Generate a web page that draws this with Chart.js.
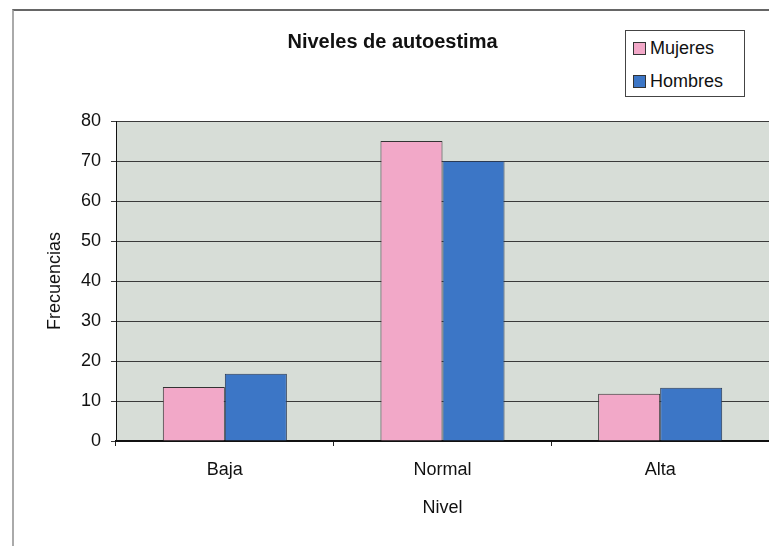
<!DOCTYPE html>
<html>
<head>
<meta charset="utf-8">
<script src="https://cdn.jsdelivr.net/npm/chart.js@4.4.1/dist/chart.umd.min.js"></script>
<style>
    body { margin: 0; background: #fff; }
    #wrap { position: relative; width: 769px; height: 546px; overflow: hidden; }
    #frame { position: absolute; left: 12px; top: 9px; width: 760px; height: 540px;
             border-left: 2px solid #aaa; border-top: 2px solid #666; pointer-events: none; }
    #legend { position: absolute; left: 625px; top: 30px; width: 120px; height: 67px;
              border: 1px solid #444; background: #fff; font-family: "Liberation Sans", Arial, sans-serif;
              font-size: 18px; color: #111; box-sizing: border-box; }
    .item { position: absolute; left: 7px; display: flex; align-items: center; line-height: 20px; }
    .sw { width: 11px; height: 11px; border: 1px solid #333; margin-right: 4px; }
</style>
</head>
<body>
<div id="wrap">
    <canvas id="chart" width="769" height="546"></canvas>
    <div id="frame"></div>
    <div id="legend"></div>
</div>
<script>
const niveles = ["Baja", "Normal", "Alta"];
const mujeres = [13.5, 75, 11.8];
const hombres = [16.8, 70, 13.3];
const ticksY = [0, 10, 20, 30, 40, 50, 60, 70, 80];

const colorMujeres = "#f2a8c8";
const colorHombres = "#3c76c6";
const fuente = "'Liberation Sans', Arial, sans-serif";

// fondo gris del area de trazado
const fondoPlot = {
    id: "fondoPlot",
    beforeDraw(chart) {
        const { ctx, chartArea: a } = chart;
        ctx.save();
        ctx.fillStyle = "#d7ddd7";
        ctx.fillRect(a.left, a.top, a.right - a.left, a.bottom - a.top);
        ctx.restore();
    }
};

new Chart(document.getElementById("chart"), {
    type: "bar",
    data: {
        labels: niveles,
        datasets: [
            { label: "Mujeres", data: mujeres, backgroundColor: colorMujeres, borderColor: "#333", borderWidth: 1 },
            { label: "Hombres", data: hombres, backgroundColor: colorHombres, borderColor: "#2a3a55", borderWidth: 1 }
        ]
    },
    options: {
        responsive: false,
        animation: false,
        layout: { padding: { left: 16, right: 0, top: 0, bottom: 0 } },
        datasets: { bar: { categoryPercentage: 0.57, barPercentage: 1 } },
        plugins: {
            legend: { display: false },
            tooltip: { enabled: false },
            title: {
                display: true,
                text: "Niveles de autoestima",
                color: "#111",
                font: { family: fuente, size: 20, weight: "bold" },
                padding: { top: 30, bottom: 67 }
            }
        },
        scales: {
            x: {
                grid: { drawOnChartArea: false, drawTicks: true, tickLength: 5, color: "#222" },
                border: { color: "#111", width: 2 },
                ticks: { color: "#111", font: { family: fuente, size: 18 }, padding: 13 },
                title: { display: true, text: "Nivel", color: "#111", font: { family: fuente, size: 18 }, padding: { top: 10, bottom: 27 } },
                afterFit(s) { s.height = 105; }
            },
            y: {
                min: 0,
                max: 80,
                afterBuildTicks(s) { s.ticks = ticksY.map(v => ({ value: v })); },
                grid: { color: "#3a3a3a", lineWidth: 1, tickLength: 5 },
                border: { color: "#111", width: 1 },
                ticks: { color: "#111", font: { family: fuente, size: 18 }, padding: 10 },
                title: { display: true, text: "Frecuencias", color: "#111", font: { family: fuente, size: 18 }, padding: { top: 28, bottom: 0 } },
                afterFit(s) { s.width = 100; }
            }
        }
    },
    plugins: [fondoPlot]
});

// leyenda en caja, como en la hoja original
const leyenda = document.getElementById("legend");
[["Mujeres", colorMujeres], ["Hombres", colorHombres]].forEach(([txt, col], i) => {
    const it = document.createElement("div");
    it.className = "item";
    it.style.top = (7 + i * 33) + "px";
    it.innerHTML = `<span class="sw" style="background:${col}"></span><span>${txt}</span>`;
    leyenda.appendChild(it);
});
</script>
</body>
</html>
